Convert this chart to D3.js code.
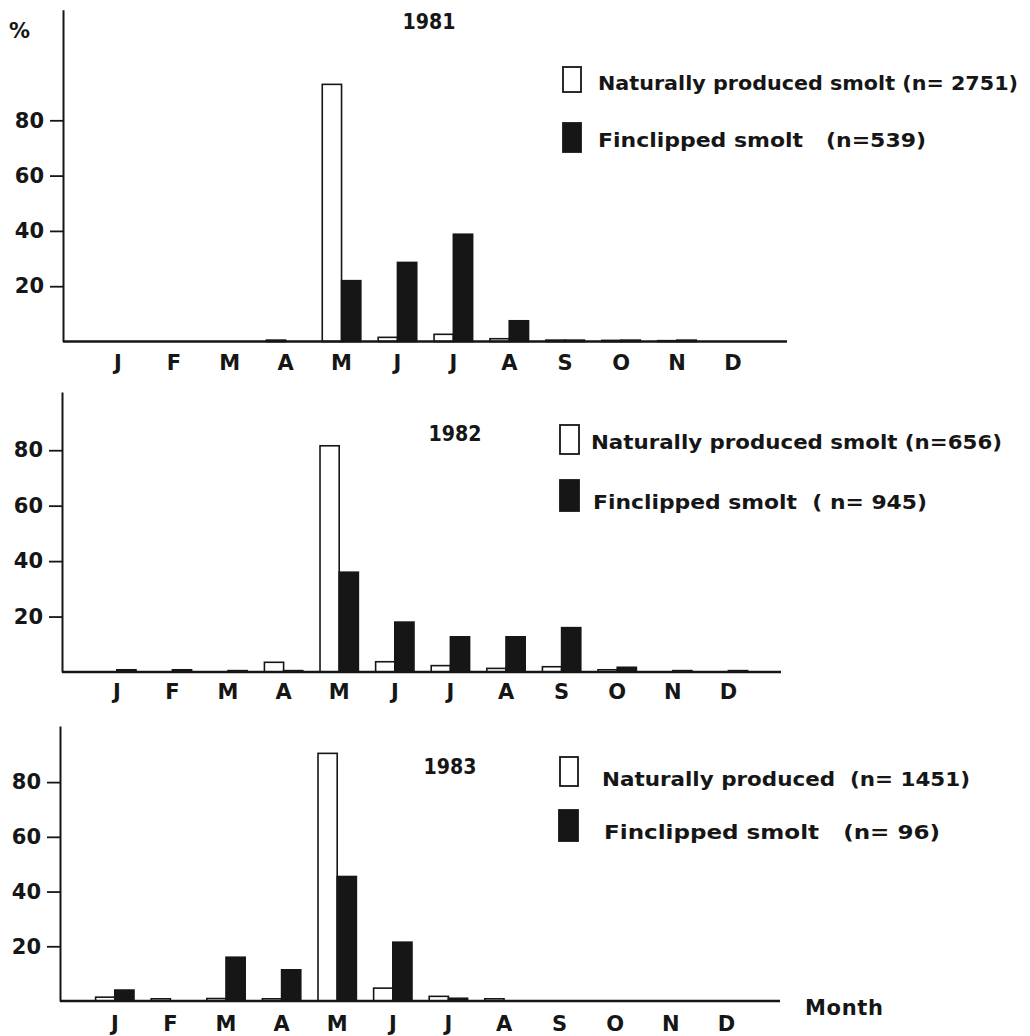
<!DOCTYPE html>
<html>
<head>
<meta charset="utf-8">
<script src="https://cdn.jsdelivr.net/npm/d3@7"></script>
<style>
  body { margin: 0; background: #fff; }
  text { font-family: "DejaVu Sans", "Liberation Sans", Arial, sans-serif; font-weight: bold; fill: #161616; }
</style>
</head>
<body>
<svg id="chart" width="1030" height="1036"></svg>
<script>
const months = ["J", "F", "M", "A", "M", "J", "J", "A", "S", "O", "N", "D"];
const yTicks = [20, 40, 60, 80];

// % of smolt per month
const natural1981 = [0, 0, 0, 0.5, 93, 1.5, 2.6, 1, 0.5, 0.4, 0.3, 0];
const fin1981     = [0, 0, 0, 0, 22, 28.6, 38.8, 7.5, 0.5, 0.5, 0.5, 0];
const natural1982 = [0, 0, 0, 3.5, 81.6, 3.7, 2.3, 1.3, 1.9, 0.8, 0, 0];
const fin1982     = [0.8, 0.8, 0.5, 0.5, 36, 18, 12.7, 12.7, 16, 1.7, 0.5, 0.5];
const natural1983 = [1.4, 0.8, 0.9, 0.8, 90.5, 4.7, 1.7, 0.8, 0, 0, 0, 0];
const fin1983     = [4, 0, 16, 11.4, 45.5, 21.5, 1, 0, 0, 0, 0, 0];

const years = ["1981", "1982", "1983"];
const legendNatural = ["Naturally produced smolt (n= 2751)", "Naturally produced smolt (n=656)", "Naturally produced  (n= 1451)"];
const legendFin = ["Finclipped smolt   (n=539)", "Finclipped smolt  ( n= 945)", "Finclipped smolt   (n= 96)"];

const svg = d3.select("#chart");
const font = "'DejaVu Sans', 'Liberation Sans', Arial, sans-serif";

const panels = [
  { year: years[0], nat: natural1981, fin: fin1981, axisX: 63, x0: 90, step: 55.9, xEnd: 787, base: 341.5, yMax: 120, top: 9.7,
    labelY: 370, titleX: 429, titleY: 29,
    leg: [{ bx: 563, by: 67, bw: 18, bh: 25, tx: 598, ty: 90, len: 420 },
          { bx: 563, by: 123, bw: 18, bh: 29, tx: 598, ty: 147, len: 328 }] },
  { year: years[1], nat: natural1982, fin: fin1982, axisX: 62, x0: 89, step: 55.6, xEnd: 781, base: 672, yMax: 101, top: 392,
    labelY: 699, titleX: 455, titleY: 441,
    leg: [{ bx: 560, by: 425, bw: 19, bh: 29, tx: 591, ty: 449, len: 411 },
          { bx: 560, by: 480, bw: 19, bh: 31, tx: 593, ty: 509, len: 334 }] },
  { year: years[2], nat: natural1983, fin: fin1983, axisX: 60, x0: 87, step: 55.6, xEnd: 780, base: 1001, yMax: 100.5, top: 726,
    labelY: 1031, titleX: 450, titleY: 774,
    leg: [{ bx: 560, by: 757, bw: 18, bh: 29, tx: 602, ty: 786, len: 368 },
          { bx: 559, by: 810, bw: 19, bh: 31, tx: 604, ty: 839, len: 336 }] }
];

panels.forEach((p, pi) => {
  const g = svg.append("g");

  const x = d3.scaleBand()
    .domain(d3.range(12))
    .range([p.x0, p.x0 + 12 * p.step])
    .paddingInner(0.31)
    .paddingOuter(0.155);

  const xs = d3.scaleBand()
    .domain(["nat", "fin"])
    .range([0, x.bandwidth()]);

  const y = d3.scaleLinear()
    .domain([0, p.yMax])
    .range([p.base, p.top]);

  // bars
  const rows = months.map((m, i) => ({ i, nat: p.nat[i], fin: p.fin[i] }));
  ["nat", "fin"].forEach(key => {
    g.selectAll(".bar-" + key)
      .data(rows.filter(d => d[key] > 0))
      .enter()
      .append("rect")
      .attr("x", d => x(d.i) + xs(key))
      .attr("y", d => y(d[key]))
      .attr("width", xs.bandwidth())
      .attr("height", d => y(0) - y(d[key]))
      .attr("fill", key === "nat" ? "#fff" : "#161616")
      .attr("stroke", "#161616")
      .attr("stroke-width", 1.6);
  });

  // x baseline
  g.append("line")
    .attr("x1", p.axisX).attr("x2", p.xEnd)
    .attr("y1", y(0)).attr("y2", y(0))
    .attr("stroke", "#161616")
    .attr("stroke-width", 2.5);

  // month labels
  g.append("g")
    .attr("transform", `translate(0, ${p.labelY})`)
    .call(d3.axisBottom(x).tickSize(0).tickFormat(i => months[i]))
    .call(a => a.select(".domain").remove())
    .selectAll("text")
    .attr("y", 0).attr("dy", 0)
    .style("font-size", "21px")
    .style("font-family", font)
    .style("font-weight", "bold")
    .attr("fill", "#161616");

  // y axis
  g.append("g")
    .attr("transform", `translate(${p.axisX}, 0)`)
    .call(d3.axisLeft(y).tickValues(yTicks).tickSize(13).tickSizeOuter(0).tickPadding(6))
    .call(a => a.select(".domain").attr("stroke", "#161616").attr("stroke-width", 2))
    .call(a => a.selectAll(".tick line").attr("stroke", "#161616").attr("stroke-width", 1.8))
    .selectAll("text")
    .style("font-size", "21px")
    .style("font-family", font)
    .style("font-weight", "bold")
    .attr("fill", "#161616");

  // year title
  g.append("text")
    .attr("x", p.titleX)
    .attr("y", p.titleY)
    .attr("text-anchor", "middle")
    .attr("textLength", 53)
    .attr("lengthAdjust", "spacingAndGlyphs")
    .style("font-size", "21px")
    .text(p.year);

  // legend
  const legTexts = [legendNatural[pi], legendFin[pi]];
  p.leg.forEach((l, li) => {
    g.append("rect")
      .attr("x", l.bx).attr("y", l.by)
      .attr("width", l.bw).attr("height", l.bh)
      .attr("fill", li === 0 ? "#fff" : "#161616")
      .attr("stroke", "#161616")
      .attr("stroke-width", 1.8);
    g.append("text")
      .attr("x", l.tx)
      .attr("y", l.ty)
      .attr("textLength", l.len)
      .attr("lengthAdjust", "spacingAndGlyphs")
      .style("font-size", "20px")
      .style("white-space", "pre")
      .text(legTexts[li]);
  });
});

// "%" unit and x-axis name
svg.append("text")
  .attr("x", 9).attr("y", 38)
  .style("font-size", "21px")
  .text("%");

svg.append("text")
  .attr("x", 805).attr("y", 1015)
  .attr("textLength", 78)
  .attr("lengthAdjust", "spacing")
  .style("font-size", "21px")
  .text("Month");
</script>
</body>
</html>
